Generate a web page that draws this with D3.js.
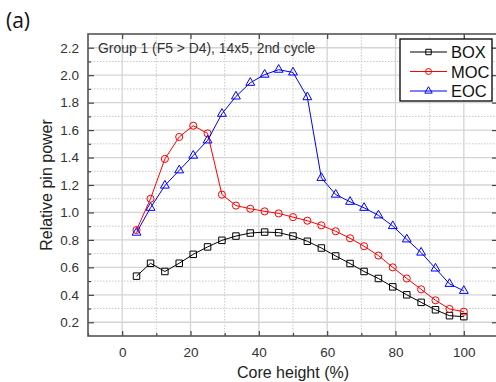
<!doctype html>
<html>
<head>
<meta charset="utf-8">
<script src="https://cdn.jsdelivr.net/npm/d3@7"></script>
<style>
  body { margin: 0; background: #fff; }
  svg { display: block; font-family: Arial, "Liberation Sans", sans-serif; }
</style>
</head>
<body>
<script>
  // core height positions (% of core), 24 axial nodes
  const height = [4.2, 8.3, 12.5, 16.7, 20.8, 25, 29.2, 33.3, 37.5, 41.7, 45.8, 50,
                  54.2, 58.3, 62.5, 66.7, 70.8, 75, 79.2, 83.3, 87.5, 91.7, 95.8, 100];
  const box = [0.536, 0.63, 0.57, 0.63, 0.695, 0.749, 0.797, 0.828, 0.85, 0.857, 0.853, 0.828,
               0.79, 0.741, 0.683, 0.628, 0.57, 0.519, 0.458, 0.40, 0.345, 0.291, 0.248, 0.241];
  const moc = [0.872, 1.10, 1.39, 1.55, 1.632, 1.576, 1.13, 1.05, 1.027, 1.008, 0.993, 0.966,
               0.94, 0.906, 0.863, 0.812, 0.754, 0.686, 0.60, 0.519, 0.44, 0.36, 0.297, 0.277];
  const eoc = [0.853, 1.034, 1.196, 1.307, 1.414, 1.525, 1.719, 1.845, 1.945, 2.004, 2.04, 2.02,
               1.84, 1.252, 1.13, 1.078, 1.034, 0.979, 0.901, 0.804, 0.708, 0.592, 0.48, 0.429];
  const xTicks = [0, 20, 40, 60, 80, 100];
  const yTicks = [0.2, 0.4, 0.6, 0.8, 1.0, 1.2, 1.4, 1.6, 1.8, 2.0, 2.2];

  const series = [
    {name: "BOX", values: box, color: "#000000", symbol: d3.symbolSquare, size: 42},
    {name: "MOC", values: moc, color: "#ff0000", symbol: d3.symbolCircle, size: 40},
    {name: "EOC", values: eoc, color: "#0000ff", symbol: d3.symbolTriangle, size: 34}
  ];

  const W = 496, H = 382;
  const m = {left: 88, top: 34, right: -2, bottom: 46};
  const iw = W - m.left - m.right, ih = H - m.top - m.bottom;

  const x = d3.scaleLinear().domain([-10, 110]).range([0, iw]);
  const y = d3.scaleLinear().domain([0.1, 2.3]).range([ih, 0]);

  const svg = d3.select("body").append("svg").attr("width", W).attr("height", H);
  const g = svg.append("g").attr("transform", `translate(${m.left},${m.top})`);

  // grid: minor dotted, major solid
  const xMinor = d3.range(-10, 111, 20), yMinor = d3.range(0.3, 2.25, 0.2);
  g.append("g").selectAll("line").data(xMinor).join("line")
      .attr("x1", x).attr("x2", x).attr("y1", 0).attr("y2", ih)
      .attr("stroke", "#c8c8c8").attr("stroke-dasharray", "1.5,1.5");
  g.append("g").selectAll("line").data(yMinor).join("line")
      .attr("y1", y).attr("y2", y).attr("x1", 0).attr("x2", iw)
      .attr("stroke", "#c8c8c8").attr("stroke-dasharray", "1.5,1.5");
  g.append("g").selectAll("line").data(xTicks).join("line")
      .attr("x1", x).attr("x2", x).attr("y1", 0).attr("y2", ih)
      .attr("stroke", "#d4d4d4").attr("stroke-width", 1.3);
  g.append("g").selectAll("line").data(yTicks).join("line")
      .attr("y1", y).attr("y2", y).attr("x1", 0).attr("x2", iw)
      .attr("stroke", "#d4d4d4").attr("stroke-width", 1.3);

  // axes with inward ticks
  const tickCol = "#444";
  function styleAxis(sel) {
    sel.select(".domain").remove();
    sel.selectAll("line").attr("stroke", tickCol).attr("stroke-width", 1.2);
    sel.selectAll("text").attr("fill", "#333").style("font-size", "13.5px");
  }
  g.append("g").attr("transform", `translate(0,${ih})`)
      .call(d3.axisBottom(x).tickValues(xTicks).tickSize(-5).tickPadding(11).tickFormat(d3.format("d")))
      .call(styleAxis);
  g.append("g").attr("transform", `translate(0,${ih})`)
      .call(d3.axisBottom(x).tickValues(xMinor).tickSize(-3).tickFormat(""))
      .call(styleAxis);
  g.append("g")
      .call(d3.axisLeft(y).tickValues(yTicks).tickSize(-6).tickPadding(9).tickFormat(d3.format(".1f")))
      .call(styleAxis);
  g.append("g")
      .call(d3.axisLeft(y).tickValues(yMinor).tickSize(-3).tickFormat(""))
      .call(styleAxis);
  g.append("g").attr("transform", `translate(${iw},0)`)
      .call(d3.axisRight(y).tickValues(yTicks).tickSize(-6).tickFormat(""))
      .call(styleAxis);
  g.append("g")
      .call(d3.axisTop(x).tickValues(xTicks).tickSize(-5).tickFormat(""))
      .call(styleAxis);

  // frame
  g.append("rect").attr("width", iw).attr("height", ih)
      .attr("fill", "none").attr("stroke", "#555").attr("stroke-width", 1.6);

  // series
  const line = d3.line().x((d, i) => x(height[i])).y(d => y(d));
  series.forEach(s => {
    g.append("path").datum(s.values).attr("d", line)
        .attr("fill", "none").attr("stroke", s.color).attr("stroke-width", 1);
    g.append("g").selectAll("path").data(s.values).join("path")
        .attr("transform", (d, i) => `translate(${x(height[i])},${y(d)})`)
        .attr("d", d3.symbol(s.symbol, s.size))
        .attr("fill", "none").attr("stroke", s.color).attr("stroke-width", 1);
  });

  // annotation
  g.append("text").attr("x", 10).attr("y", 19)
      .attr("fill", "#333").style("font-size", "13.9px")
      .text("Group 1 (F5 > D4), 14x5, 2nd cycle");

  // legend
  const lg = svg.append("g").attr("transform", "translate(400,39)");
  lg.append("rect").attr("width", 92).attr("height", 62)
      .attr("fill", "#fff").attr("stroke", "#000").attr("stroke-width", 1.3);
  series.forEach((s, i) => {
    const yy = 13 + i * 19.5;
    lg.append("line").attr("x1", 10).attr("x2", 47).attr("y1", yy).attr("y2", yy)
        .attr("stroke", s.color).attr("stroke-width", 1);
    lg.append("path").attr("transform", `translate(28.5,${yy})`)
        .attr("d", d3.symbol(s.symbol, s.size * 0.7))
        .attr("fill", "none").attr("stroke", s.color);
    lg.append("text").attr("x", 51).attr("y", yy + 6)
        .attr("fill", "#111").style("font-size", "16.5px").text(s.name);
  });

  // axis titles
  svg.append("text").attr("x", m.left + iw / 2).attr("y", 378)
      .attr("text-anchor", "middle").attr("fill", "#222").style("font-size", "16px")
      .text("Core height (%)");
  svg.append("text").attr("transform", `translate(52,${m.top + ih / 2}) rotate(-90)`)
      .attr("text-anchor", "middle").attr("fill", "#222").style("font-size", "16px")
      .text("Relative pin power");

  svg.append("text").attr("x", 6).attr("y", 28)
      .attr("fill", "#111").style("font-size", "21px").style("font-family", "'Open Sans', sans-serif")
      .text("(a)");
</script>
</body>
</html>
